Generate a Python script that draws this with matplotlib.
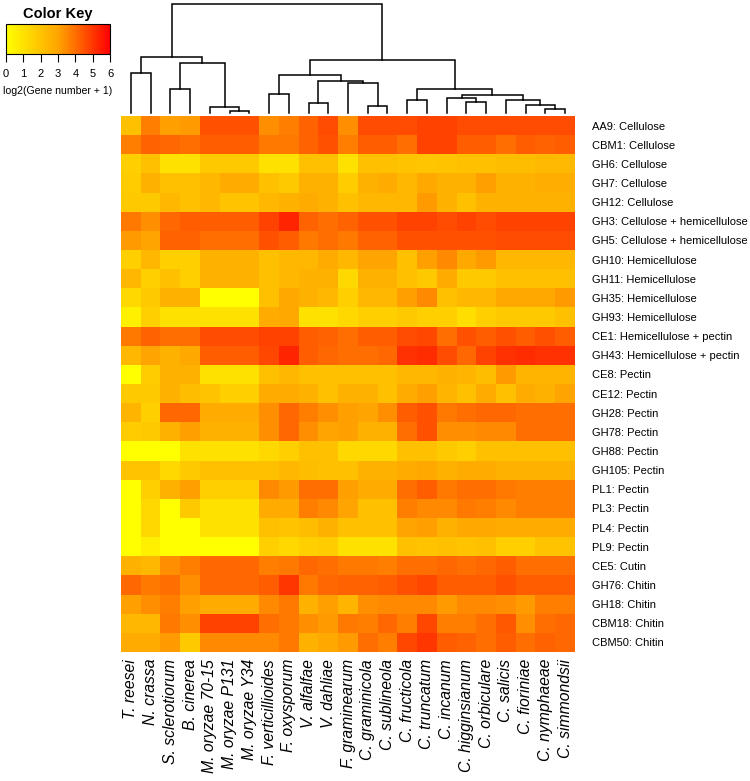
import numpy as np
import matplotlib
matplotlib.use("Agg")
import matplotlib.pyplot as plt
from matplotlib.colors import LinearSegmentedColormap

plt.rcParams["font.family"] = ["Liberation Sans", "DejaVu Sans"]

species = ["T. reesei", "N. crassa", "S. sclerotiorum", "B. cinerea",
           "M. oryzae 70-15", "M. oryzae P131", "M. oryzae Y34",
           "F. verticillioides", "F. oxysporum", "V. alfalfae", "V. dahliae",
           "F. graminearum", "C. graminicola", "C. sublineola", "C. fructicola",
           "C. truncatum", "C. incanum", "C. higginsianum", "C. orbiculare",
           "C. salicis", "C. fioriniae", "C. nymphaeae", "C. simmondsii"]

families = ["AA9: Cellulose", "CBM1: Cellulose", "GH6: Cellulose", "GH7: Cellulose",
            "GH12: Cellulose", "GH3: Cellulose + hemicellulose",
            "GH5: Cellulose + hemicellulose", "GH10: Hemicellulose",
            "GH11: Hemicellulose", "GH35: Hemicellulose", "GH93: Hemicellulose",
            "CE1: Hemicellulose + pectin", "GH43: Hemicellulose + pectin",
            "CE8: Pectin", "CE12: Pectin", "GH28: Pectin", "GH78: Pectin",
            "GH88: Pectin", "GH105: Pectin", "PL1: Pectin", "PL3: Pectin",
            "PL4: Pectin", "PL9: Pectin", "CE5: Cutin", "GH76: Chitin",
            "GH18: Chitin", "CBM18: Chitin", "CBM50: Chitin"]

# log2(gene number + 1), one row per family, columns in species order
values = [
    [2.1, 3.7, 3.1, 3.2, 4.5, 4.5, 4.5, 3.4, 3.7, 4.2, 4.6, 3.4, 4.6, 4.6, 4.6, 4.8, 4.8, 4.6, 4.6, 4.6, 4.6, 4.6, 4.6],
    [3.7, 4.2, 4.1, 4.0, 4.3, 4.3, 4.3, 3.8, 3.8, 4.2, 4.5, 3.7, 4.3, 4.3, 4.0, 4.8, 4.8, 4.3, 4.3, 4.0, 4.3, 4.2, 4.3],
    [1.6, 2.1, 1.0, 1.0, 1.8, 1.8, 1.8, 1.0, 1.0, 2.1, 2.1, 1.0, 2.1, 2.1, 2.0, 1.9, 2.0, 2.1, 2.1, 2.2, 2.2, 2.3, 2.3],
    [1.7, 2.6, 2.1, 2.1, 2.4, 2.8, 2.8, 2.1, 1.8, 2.6, 2.6, 1.7, 2.6, 2.8, 2.4, 2.9, 2.6, 2.6, 3.1, 2.6, 2.6, 2.7, 2.7],
    [1.8, 1.8, 2.4, 2.1, 2.4, 2.0, 2.0, 2.4, 2.6, 2.8, 2.6, 2.1, 2.4, 2.4, 2.4, 3.2, 2.6, 2.1, 2.6, 2.6, 2.6, 2.6, 2.6],
    [3.8, 3.4, 4.1, 4.3, 4.3, 4.3, 4.3, 4.8, 5.3, 4.2, 4.0, 4.2, 4.5, 4.5, 4.8, 4.8, 4.6, 4.8, 4.6, 4.8, 4.8, 4.8, 4.8],
    [3.2, 3.0, 4.2, 4.2, 4.0, 4.0, 4.0, 4.5, 4.3, 3.8, 4.0, 3.8, 4.2, 4.2, 4.5, 4.5, 4.5, 4.5, 4.5, 4.6, 4.6, 4.6, 4.6],
    [1.6, 2.4, 1.6, 1.6, 2.6, 2.6, 2.6, 2.1, 2.4, 2.4, 2.8, 2.4, 3.0, 3.0, 2.1, 3.1, 3.5, 2.9, 3.2, 2.4, 2.4, 2.4, 2.4],
    [2.4, 1.6, 2.1, 1.6, 2.6, 2.6, 2.6, 2.1, 2.4, 2.6, 2.6, 1.3, 2.6, 2.6, 2.1, 1.8, 2.8, 1.8, 1.8, 2.1, 2.1, 2.1, 2.1],
    [1.3, 1.8, 2.6, 2.6, 0.0, 0.0, 0.0, 2.1, 2.9, 2.6, 2.4, 1.6, 2.4, 2.4, 3.1, 3.5, 2.1, 2.4, 2.4, 2.9, 2.9, 2.9, 3.2],
    [0.5, 1.6, 1.0, 1.0, 1.0, 1.0, 1.0, 2.8, 2.9, 1.0, 1.0, 1.3, 1.6, 1.6, 1.8, 1.6, 1.6, 1.1, 1.6, 1.8, 1.8, 1.8, 2.1],
    [3.8, 4.2, 4.0, 4.0, 4.6, 4.6, 4.6, 4.8, 4.8, 4.3, 4.2, 4.0, 4.3, 4.3, 4.6, 4.7, 4.0, 4.5, 4.3, 4.5, 4.3, 4.5, 4.3],
    [2.4, 3.0, 2.6, 2.9, 4.3, 4.3, 4.3, 4.7, 5.3, 4.3, 4.1, 4.0, 4.0, 4.1, 5.1, 5.2, 4.6, 4.1, 4.8, 5.1, 5.2, 5.1, 5.1],
    [0.0, 1.7, 2.6, 2.6, 1.0, 1.0, 1.0, 2.1, 2.4, 2.1, 2.1, 2.1, 2.1, 2.1, 2.4, 2.4, 2.6, 2.5, 2.2, 3.2, 2.5, 2.5, 2.5],
    [1.8, 1.8, 2.6, 2.2, 2.0, 1.6, 1.6, 2.8, 2.8, 2.6, 2.1, 2.6, 2.6, 2.1, 2.8, 3.1, 2.5, 2.1, 2.8, 2.1, 2.8, 2.6, 3.0],
    [2.5, 1.6, 4.1, 4.1, 2.8, 2.8, 2.8, 3.4, 4.1, 3.7, 3.4, 3.1, 3.0, 3.4, 4.3, 4.5, 3.8, 4.0, 4.1, 4.1, 4.0, 4.0, 4.0],
    [1.7, 1.8, 2.6, 3.1, 2.6, 2.6, 2.6, 3.4, 4.1, 3.4, 3.0, 3.1, 2.6, 2.6, 4.0, 4.5, 3.4, 3.4, 3.5, 3.5, 4.0, 4.0, 4.0],
    [0.0, 0.0, 0.0, 1.0, 1.0, 1.0, 1.0, 1.3, 1.6, 2.1, 2.1, 1.3, 1.3, 1.3, 2.1, 2.1, 1.8, 1.6, 2.1, 2.1, 2.1, 2.1, 2.1],
    [2.0, 2.0, 1.3, 1.8, 2.1, 2.1, 2.1, 2.1, 2.4, 2.2, 2.1, 2.1, 2.6, 2.6, 2.8, 2.9, 2.6, 2.8, 2.8, 2.6, 2.6, 2.6, 2.6],
    [0.0, 1.6, 2.6, 3.1, 1.6, 1.6, 1.6, 3.5, 3.2, 4.0, 4.0, 3.1, 2.8, 2.8, 4.0, 4.3, 3.8, 4.0, 4.0, 3.8, 3.7, 3.7, 3.7],
    [0.0, 1.3, 0.0, 1.8, 1.0, 1.0, 1.0, 2.8, 2.8, 3.7, 3.5, 3.0, 2.1, 2.1, 3.7, 3.5, 3.5, 3.8, 3.7, 3.5, 3.7, 3.7, 3.7],
    [0.0, 1.3, 0.0, 0.0, 1.0, 1.0, 1.0, 2.1, 2.0, 2.2, 2.6, 2.1, 2.1, 2.1, 3.0, 3.1, 2.6, 2.9, 2.9, 2.8, 2.8, 2.8, 2.8],
    [0.0, 0.5, 0.0, 0.0, 0.0, 0.0, 0.0, 1.6, 1.3, 1.6, 1.7, 1.0, 1.0, 1.0, 2.1, 2.0, 2.1, 2.0, 2.1, 1.6, 1.6, 2.0, 2.0],
    [2.6, 2.4, 3.4, 3.7, 4.1, 4.1, 4.1, 3.7, 3.8, 4.1, 4.0, 3.8, 3.8, 3.7, 4.0, 4.0, 4.1, 4.0, 4.1, 4.3, 4.0, 4.0, 4.0],
    [4.1, 3.8, 4.0, 3.4, 4.1, 4.1, 4.1, 4.3, 5.0, 3.8, 4.1, 4.2, 4.2, 4.3, 4.5, 4.7, 4.3, 4.3, 4.3, 4.5, 4.3, 4.3, 4.3],
    [3.1, 3.4, 3.7, 3.1, 2.8, 2.8, 2.8, 3.5, 3.8, 2.6, 3.1, 2.5, 3.4, 3.5, 3.5, 3.5, 3.2, 3.5, 3.5, 3.4, 3.2, 3.7, 3.7],
    [2.4, 2.4, 3.8, 3.4, 4.8, 4.8, 4.8, 4.0, 3.8, 3.4, 3.2, 3.8, 3.7, 4.1, 3.7, 4.7, 3.7, 3.7, 4.0, 4.4, 3.4, 4.0, 4.1],
    [2.8, 2.8, 3.2, 1.8, 3.5, 3.5, 3.5, 3.5, 3.8, 2.6, 2.9, 3.2, 4.0, 3.7, 4.7, 5.0, 4.3, 4.2, 4.0, 4.3, 4.0, 4.2, 4.1],
]

# column dendrogram: (left child, right child, height); children >= 23 are earlier merges
linkage = [
    (5, 6, 2.0), (21, 22, 4.3), (4, 23, 6.3), (12, 13, 7.0), (20, 24, 7.7),
    (9, 10, 10.3), (17, 18, 10.7), (14, 15, 13.0), (19, 27, 13.0),
    (16, 29, 15.3), (32, 31, 18.0), (7, 8, 19.0), (2, 3, 23.7), (30, 33, 23.7),
    (11, 26, 29.7), (28, 37, 32.3), (34, 38, 37.7), (0, 1, 39.7),
    (35, 25, 50.3), (39, 36, 53.0), (40, 41, 55.7), (43, 42, 108.7),
]

W, H = 750, 781
fig = plt.figure(figsize=(W / 100, H / 100), dpi=100)

cmap = LinearSegmentedColormap.from_list("key", ["#FFFF00", "#FFA500", "#FF0000"])
data = np.array(values)
n_rows, n_cols = data.shape

# heatmap
ax = fig.add_axes([121 / W, 1 - 652 / H, 454 / W, 536 / H])
im = ax.imshow(data, cmap=cmap, vmin=0, vmax=6, aspect="auto", interpolation="nearest")
for s in ax.spines.values():
    s.set_visible(False)
ax.set_xticks(range(n_cols))
ax.set_xticklabels(species, rotation=90, fontsize=11.3, style="italic", va="top")
ax.set_yticks(range(n_rows))
ax.set_yticklabels(families, fontsize=8)
ax.yaxis.tick_right()
ax.tick_params(axis="both", length=0)
ax.tick_params(axis="x", pad=5)
ax.tick_params(axis="y", pad=12)

# dendrogram
dax = fig.add_axes([121 / W, 1 - 116 / H, 454 / W, 116 / H])
dax.set_xlim(-0.5, n_cols - 0.5)
dax.set_ylim(-3, 113)
dax.axis("off")
pos = {i: (float(i), 0.0) for i in range(n_cols)}
for k, (a, b, h) in enumerate(linkage):
    xa, ha = pos[a]
    xb, hb = pos[b]
    dax.plot([xa, xa, xb, xb], [ha, h, h, hb], color="black", lw=1.1,
             solid_joinstyle="miter")
    pos[n_cols + k] = ((xa + xb) / 2, h)

# color key
kax = fig.add_axes([6 / W, 1 - 54 / H, 104 / W, 30 / H])
cb = fig.colorbar(im, cax=kax, orientation="horizontal")
cb.set_ticks(range(7))
cb.outline.set_linewidth(0.8)
kax.tick_params(labelsize=8, length=6, width=0.8, pad=5)
kax.set_xlabel("log2(Gene number + 1)", fontsize=7.6, labelpad=5)
kax.set_title("Color Key", fontsize=10.5, fontweight="bold", pad=4)

fig.savefig("out.png", dpi=100)
